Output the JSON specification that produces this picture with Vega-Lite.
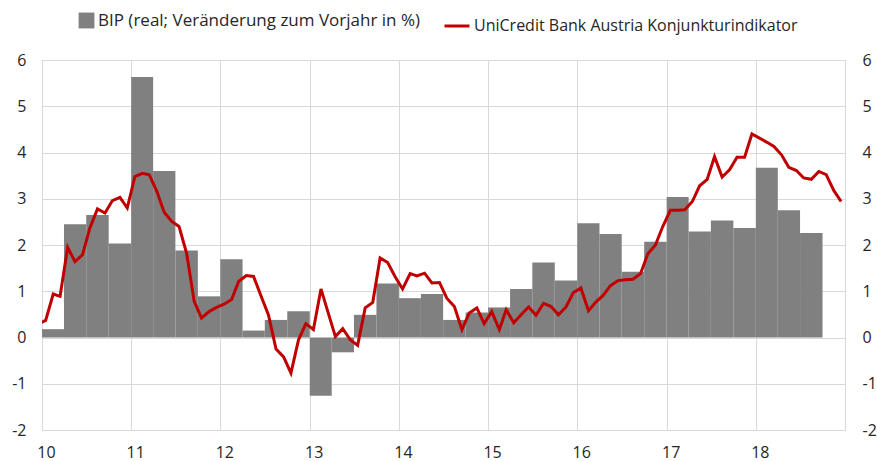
{
  "$schema": "https://vega.github.io/schema/vega-lite/v6.json",
  "width": 803,
  "height": 370,
  "autosize": {"type": "none"},
  "padding": {"left": 42, "top": 60, "right": 32, "bottom": 31},
  "background": "white",
  "config": {
    "font": "Open Sans",
    "view": {"stroke": "#d9d9d9", "strokeWidth": 1},
    "axis": {"labelFontSize": 16, "labelColor": "#262626", "labelFont": "Open Sans", "ticks": false, "domain": false, "title": null, "gridColor": "#d9d9d9", "gridWidth": 1},
    "legend": {"labelFontSize": 16, "labelColor": "#262626", "labelFont": "Open Sans", "title": null, "labelOffset": 3, "labelLimit": 500}
  },
  "datasets": {
    "gdp": [
      {"start": "2010-01-01", "end": "2010-04-01", "v": 0.18},
      {"start": "2010-04-01", "end": "2010-07-01", "v": 2.45},
      {"start": "2010-07-01", "end": "2010-10-01", "v": 2.65},
      {"start": "2010-10-01", "end": "2011-01-01", "v": 2.03},
      {"start": "2011-01-01", "end": "2011-04-01", "v": 5.63},
      {"start": "2011-04-01", "end": "2011-07-01", "v": 3.6},
      {"start": "2011-07-01", "end": "2011-10-01", "v": 1.88},
      {"start": "2011-10-01", "end": "2012-01-01", "v": 0.89},
      {"start": "2012-01-01", "end": "2012-04-01", "v": 1.69},
      {"start": "2012-04-01", "end": "2012-07-01", "v": 0.15},
      {"start": "2012-07-01", "end": "2012-10-01", "v": 0.38},
      {"start": "2012-10-01", "end": "2013-01-01", "v": 0.57},
      {"start": "2013-01-01", "end": "2013-04-01", "v": -1.26},
      {"start": "2013-04-01", "end": "2013-07-01", "v": -0.32},
      {"start": "2013-07-01", "end": "2013-10-01", "v": 0.49},
      {"start": "2013-10-01", "end": "2014-01-01", "v": 1.17},
      {"start": "2014-01-01", "end": "2014-04-01", "v": 0.85},
      {"start": "2014-04-01", "end": "2014-07-01", "v": 0.94},
      {"start": "2014-07-01", "end": "2014-10-01", "v": 0.38},
      {"start": "2014-10-01", "end": "2015-01-01", "v": 0.54},
      {"start": "2015-01-01", "end": "2015-04-01", "v": 0.65},
      {"start": "2015-04-01", "end": "2015-07-01", "v": 1.05},
      {"start": "2015-07-01", "end": "2015-10-01", "v": 1.62},
      {"start": "2015-10-01", "end": "2016-01-01", "v": 1.23},
      {"start": "2016-01-01", "end": "2016-04-01", "v": 2.47},
      {"start": "2016-04-01", "end": "2016-07-01", "v": 2.24},
      {"start": "2016-07-01", "end": "2016-10-01", "v": 1.42},
      {"start": "2016-10-01", "end": "2017-01-01", "v": 2.07},
      {"start": "2017-01-01", "end": "2017-04-01", "v": 3.04},
      {"start": "2017-04-01", "end": "2017-07-01", "v": 2.29},
      {"start": "2017-07-01", "end": "2017-10-01", "v": 2.53},
      {"start": "2017-10-01", "end": "2018-01-01", "v": 2.37},
      {"start": "2018-01-01", "end": "2018-04-01", "v": 3.67},
      {"start": "2018-04-01", "end": "2018-07-01", "v": 2.75},
      {"start": "2018-07-01", "end": "2018-10-01", "v": 2.26}
    ],
    "ind": [
      {"d": "2009-12-16", "v": 0.29},
      {"d": "2010-01-16", "v": 0.37}, {"d": "2010-02-16", "v": 0.94}, {"d": "2010-03-16", "v": 0.89}, {"d": "2010-04-16", "v": 1.95},
      {"d": "2010-05-16", "v": 1.64}, {"d": "2010-06-16", "v": 1.79}, {"d": "2010-07-16", "v": 2.37}, {"d": "2010-08-16", "v": 2.78},
      {"d": "2010-09-16", "v": 2.69}, {"d": "2010-10-16", "v": 2.96}, {"d": "2010-11-16", "v": 3.03}, {"d": "2010-12-16", "v": 2.8},
      {"d": "2011-01-16", "v": 3.48}, {"d": "2011-02-16", "v": 3.55}, {"d": "2011-03-16", "v": 3.52}, {"d": "2011-04-16", "v": 3.16},
      {"d": "2011-05-16", "v": 2.71}, {"d": "2011-06-16", "v": 2.51}, {"d": "2011-07-16", "v": 2.4}, {"d": "2011-08-16", "v": 1.82},
      {"d": "2011-09-16", "v": 0.78}, {"d": "2011-10-16", "v": 0.42}, {"d": "2011-11-16", "v": 0.56}, {"d": "2011-12-16", "v": 0.65},
      {"d": "2012-01-16", "v": 0.72}, {"d": "2012-02-16", "v": 0.82}, {"d": "2012-03-16", "v": 1.21}, {"d": "2012-04-16", "v": 1.34},
      {"d": "2012-05-16", "v": 1.32}, {"d": "2012-06-16", "v": 0.89}, {"d": "2012-07-16", "v": 0.49}, {"d": "2012-08-16", "v": -0.25},
      {"d": "2012-09-16", "v": -0.42}, {"d": "2012-10-16", "v": -0.77}, {"d": "2012-11-16", "v": -0.05}, {"d": "2012-12-16", "v": 0.3},
      {"d": "2013-01-16", "v": 0.17}, {"d": "2013-02-16", "v": 1.05}, {"d": "2013-03-16", "v": 0.56}, {"d": "2013-04-16", "v": 0.02},
      {"d": "2013-05-16", "v": 0.19}, {"d": "2013-06-16", "v": -0.05}, {"d": "2013-07-16", "v": -0.17}, {"d": "2013-08-16", "v": 0.64},
      {"d": "2013-09-16", "v": 0.76}, {"d": "2013-10-16", "v": 1.72}, {"d": "2013-11-16", "v": 1.62}, {"d": "2013-12-16", "v": 1.32},
      {"d": "2014-01-16", "v": 1.05}, {"d": "2014-02-16", "v": 1.38}, {"d": "2014-03-16", "v": 1.33}, {"d": "2014-04-16", "v": 1.39},
      {"d": "2014-05-16", "v": 1.18}, {"d": "2014-06-16", "v": 1.19}, {"d": "2014-07-16", "v": 0.85}, {"d": "2014-08-16", "v": 0.67},
      {"d": "2014-09-16", "v": 0.17}, {"d": "2014-10-16", "v": 0.53}, {"d": "2014-11-16", "v": 0.64}, {"d": "2014-12-16", "v": 0.3},
      {"d": "2015-01-16", "v": 0.56}, {"d": "2015-02-16", "v": 0.17}, {"d": "2015-03-16", "v": 0.6}, {"d": "2015-04-16", "v": 0.32},
      {"d": "2015-05-16", "v": 0.49}, {"d": "2015-06-16", "v": 0.66}, {"d": "2015-07-16", "v": 0.48}, {"d": "2015-08-16", "v": 0.74},
      {"d": "2015-09-16", "v": 0.67}, {"d": "2015-10-16", "v": 0.49}, {"d": "2015-11-16", "v": 0.66}, {"d": "2015-12-16", "v": 0.97},
      {"d": "2016-01-16", "v": 1.07}, {"d": "2016-02-16", "v": 0.58}, {"d": "2016-03-16", "v": 0.76}, {"d": "2016-04-16", "v": 0.91},
      {"d": "2016-05-16", "v": 1.12}, {"d": "2016-06-16", "v": 1.23}, {"d": "2016-07-16", "v": 1.25}, {"d": "2016-08-16", "v": 1.26},
      {"d": "2016-09-16", "v": 1.38}, {"d": "2016-10-16", "v": 1.81}, {"d": "2016-11-16", "v": 2.0}, {"d": "2016-12-16", "v": 2.4},
      {"d": "2017-01-16", "v": 2.75}, {"d": "2017-02-16", "v": 2.75}, {"d": "2017-03-16", "v": 2.76}, {"d": "2017-04-16", "v": 2.94},
      {"d": "2017-05-16", "v": 3.28}, {"d": "2017-06-16", "v": 3.42}, {"d": "2017-07-16", "v": 3.91}, {"d": "2017-08-16", "v": 3.47},
      {"d": "2017-09-16", "v": 3.63}, {"d": "2017-10-16", "v": 3.9}, {"d": "2017-11-16", "v": 3.9}, {"d": "2017-12-16", "v": 4.4},
      {"d": "2018-01-16", "v": 4.31}, {"d": "2018-02-16", "v": 4.22}, {"d": "2018-03-16", "v": 4.13}, {"d": "2018-04-16", "v": 3.95},
      {"d": "2018-05-16", "v": 3.68}, {"d": "2018-06-16", "v": 3.61}, {"d": "2018-07-16", "v": 3.45}, {"d": "2018-08-16", "v": 3.42},
      {"d": "2018-09-16", "v": 3.59}, {"d": "2018-10-16", "v": 3.52}, {"d": "2018-11-16", "v": 3.18}, {"d": "2018-12-16", "v": 2.94}
    ]
  },
  "resolve": {"axis": {"y": "independent"}, "scale": {"fill": "independent", "stroke": "independent"}},
  "layer": [
    {
      "data": {"name": "gdp"},
      "mark": {"type": "rect", "color": "#808080"},
      "encoding": {
        "x": {
          "field": "start", "type": "temporal",
          "scale": {"type": "utc", "domain": [{"year": 2010, "month": 1, "date": 1, "utc": true}, {"year": 2019, "month": 1, "date": 1, "utc": true}]},
          "axis": {
            "values": [
              {"year": 2010, "month": 1, "date": 1, "utc": true}, {"year": 2011, "month": 1, "date": 1, "utc": true},
              {"year": 2012, "month": 1, "date": 1, "utc": true}, {"year": 2013, "month": 1, "date": 1, "utc": true},
              {"year": 2014, "month": 1, "date": 1, "utc": true}, {"year": 2015, "month": 1, "date": 1, "utc": true},
              {"year": 2016, "month": 1, "date": 1, "utc": true}, {"year": 2017, "month": 1, "date": 1, "utc": true},
              {"year": 2018, "month": 1, "date": 1, "utc": true}
            ],
            "labelExpr": "utcFormat(datum.value, '%y')", "labelOffset": 4, "labelFlush": false, "labelPadding": 14, "grid": true
          }
        },
        "x2": {"field": "end"},
        "y": {
          "field": "v", "type": "quantitative",
          "scale": {"domain": [-2, 6], "nice": false, "zero": false},
          "axis": {"orient": "left", "values": [-2, -1, 0, 1, 2, 3, 4, 5, 6], "labelExpr": "'' + datum.value", "grid": true, "labelPadding": 16}
        },
        "y2": {"datum": 0},
        "fill": {
          "datum": "BIP (real; Veränderung zum Vorjahr in %)",
          "scale": {"range": ["#808080"]},
          "legend": {"orient": "none", "legendX": 36, "legendY": -48, "symbolType": "square", "symbolSize": 250, "symbolStrokeWidth": 0, "labelFontSize": 17}
        }
      }
    },
    {
      "mark": {"type": "rule", "color": "#a0a0a0", "strokeWidth": 3},
      "encoding": {"y": {"datum": 0, "axis": null}}
    },
    {
      "data": {"name": "ind"},
      "mark": {"type": "line", "color": "#c00000", "strokeWidth": 3, "clip": true},
      "encoding": {
        "x": {
          "field": "d", "type": "temporal",
          "axis": {
            "values": [
              {"year": 2010, "month": 1, "date": 1, "utc": true}, {"year": 2011, "month": 1, "date": 1, "utc": true},
              {"year": 2012, "month": 1, "date": 1, "utc": true}, {"year": 2013, "month": 1, "date": 1, "utc": true},
              {"year": 2014, "month": 1, "date": 1, "utc": true}, {"year": 2015, "month": 1, "date": 1, "utc": true},
              {"year": 2016, "month": 1, "date": 1, "utc": true}, {"year": 2017, "month": 1, "date": 1, "utc": true},
              {"year": 2018, "month": 1, "date": 1, "utc": true}
            ],
            "labelExpr": "utcFormat(datum.value, '%y')", "labelOffset": 4, "labelFlush": false, "labelPadding": 14, "grid": true
          }
        },
        "y": {
          "field": "v", "type": "quantitative",
          "axis": {"orient": "right", "values": [-2, -1, 0, 1, 2, 3, 4, 5, 6], "labelExpr": "'' + datum.value", "grid": false, "labelPadding": 17}
        },
        "stroke": {
          "datum": "UniCredit Bank Austria Konjunkturindikator",
          "scale": {"range": ["#c00000"]},
          "legend": {"orient": "none", "legendX": 401, "legendY": -48, "symbolType": "stroke", "symbolSize": 625, "symbolStrokeWidth": 3}
        }
      }
    }
  ]
}
